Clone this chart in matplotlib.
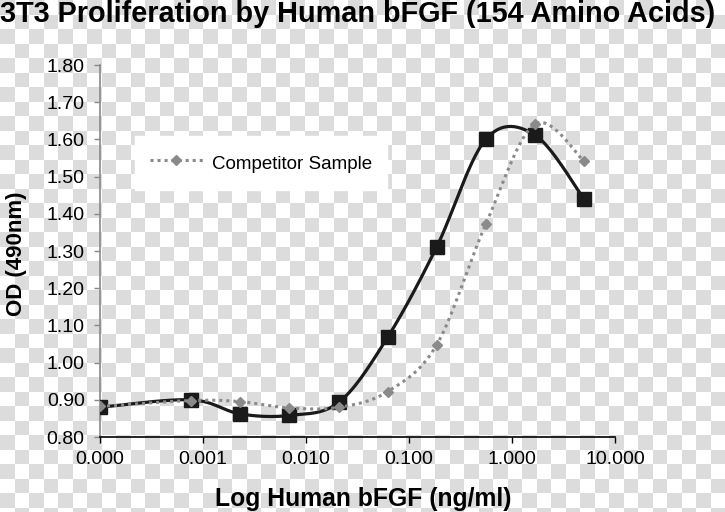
import numpy as np
import matplotlib
matplotlib.use("Agg")
import matplotlib.pyplot as plt
from matplotlib.ticker import FixedLocator, FuncFormatter, NullLocator

plt.rcParams['font.family'] = ['Liberation Sans', 'DejaVu Sans']

# données
dose = [0.0001, 0.00076, 0.0023, 0.0069, 0.021, 0.062, 0.185, 0.556, 1.667, 5.0]
od_peprotech = [0.880, 0.900, 0.862, 0.858, 0.894, 1.068, 1.310, 1.600, 1.612, 1.440]
od_competitor = [0.882, 0.898, 0.895, 0.878, 0.880, 0.922, 1.047, 1.372, 1.641, 1.542]
legend_label = "Competitor Sample"
x_ticks = [0.0001, 0.001, 0.01, 0.1, 1, 10]
y_ticks = [0.8, 0.9, 1.0, 1.1, 1.2, 1.3, 1.4, 1.5, 1.6, 1.7, 1.8]


def lissage(x, y, n=30):
    # courbe lissée façon Excel (Bezier type Catmull-Rom) en log(x)
    lx = np.log10(x)
    y = np.asarray(y, float)
    px = np.concatenate([[lx[0]], lx, [lx[-1]]])
    py = np.concatenate([[y[0]], y, [y[-1]]])
    xs, ys = [], []
    t = np.linspace(0, 1, n)
    for i in range(1, len(px) - 2):
        p0 = np.array([px[i], py[i]])
        p3 = np.array([px[i + 1], py[i + 1]])
        c1 = p0 + (np.array([px[i + 1], py[i + 1]]) - np.array([px[i - 1], py[i - 1]])) / 6
        c2 = p3 - (np.array([px[i + 2], py[i + 2]]) - np.array([px[i], py[i]])) / 6
        b = ((1 - t) ** 3)[:, None] * p0 + (3 * (1 - t) ** 2 * t)[:, None] * c1 \
            + (3 * (1 - t) * t ** 2)[:, None] * c2 + (t ** 3)[:, None] * p3
        xs.extend(b[:, 0])
        ys.extend(b[:, 1])
    return 10 ** np.array(xs), np.array(ys)


W, H = 725, 512
fig = plt.figure(figsize=(W / 100, H / 100), dpi=100)

# fond en damier (transparence)
bg = fig.add_axes([0, 0, 1, 1], zorder=-10)
cols = np.floor(np.arange(W) / 14.5).astype(int)
rows = np.floor(np.arange(H) / 14.5).astype(int)
damier = np.where((rows[:, None] + cols[None, :]) % 2 == 0, 0.86, 1.0)
bg.imshow(damier, cmap='gray', vmin=0, vmax=1, interpolation='nearest',
          extent=[0, W, H, 0], aspect='auto')
bg.axis('off')

ax = fig.add_axes([100 / W, 1 - 437 / H, 515 / W, 372 / H])
ax.patch.set_visible(False)

sx, sy = lissage(dose, od_peprotech)
ax.plot(sx, sy, color='#1a1a1a', lw=2.3, zorder=3)
ax.plot(dose, od_peprotech, ls='none', marker='s', ms=10, color='#1a1a1a', zorder=4)

cx, cy = lissage(dose, od_competitor)
ax.plot(cx, cy, color='#8a8a8a', lw=2.2, ls=(0, (1, 1.3)), zorder=5)
ax.plot(dose, od_competitor, ls='none', marker='D', ms=5, color='#8a8a8a', zorder=6)
handle, = ax.plot([], [], color='#8a8a8a', lw=2.2, ls=(0, (1, 1.3)), marker='D', ms=5)

ax.set_xscale('log')
ax.set_xlim(1e-4, 10)
ax.set_ylim(0.8, 1.8)
ax.xaxis.set_major_locator(FixedLocator(x_ticks))
ax.xaxis.set_minor_locator(NullLocator())
ax.xaxis.set_major_formatter(FuncFormatter(lambda v, p: '%.3f' % v))
ax.set_yticks(y_ticks)
ax.yaxis.set_major_formatter(FuncFormatter(lambda v, p: '%.2f' % v))

for s in ['top', 'right']:
    ax.spines[s].set_visible(False)
ax.spines['left'].set_color('#888888')
ax.spines['left'].set_linewidth(1.2)
ax.spines['bottom'].set_color('black')
ax.spines['bottom'].set_linewidth(1.2)
ax.tick_params(axis='x', length=4, width=1, color='black', labelsize=14, pad=6)
ax.tick_params(axis='y', length=4, width=1, color='#888888', labelsize=14, pad=7)

leg = ax.legend([handle], [legend_label], loc='center', bbox_to_anchor=(0.313, 0.737),
                frameon=True, fancybox=False, framealpha=1, edgecolor='white',
                fontsize=13.5, numpoints=1, handlelength=2.8, handleheight=1.6,
                handletextpad=0.5, borderpad=0.8)

fig.text(0, 1.0, "3T3 Proliferation by Human bFGF (154 Amino Acids)",
         ha='left', va='top', fontsize=20.8, fontweight='bold')
fig.text(363 / W, 6 / H, "Log Human bFGF (ng/ml)", ha='center', va='baseline',
         fontsize=17.8, fontweight='bold')
fig.text(17 / W, 1 - 254 / H, "OD (490nm)", ha='center', va='center', rotation=90,
         fontsize=16, fontweight='bold')

fig.savefig('out.png', dpi=100)
